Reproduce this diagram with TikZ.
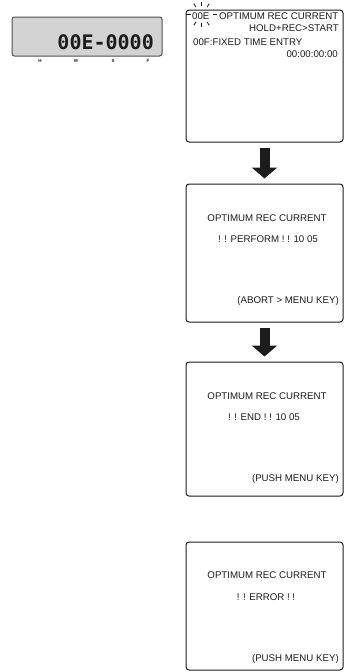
\documentclass[tikz,border=0pt]{standalone}
\usepackage{fontspec}
\setmainfont{Liberation Sans}
\newfontfamily\lcdfont{DejaVu Sans Mono}
\usetikzlibrary{arrows.meta,calc,positioning}
\definecolor{Ink}{HTML}{1C1C1C}
\definecolor{Lcd}{HTML}{D2D2D2}
\definecolor{Frame}{HTML}{505050}

\tikzset{
  screen/.style={draw=Ink,line width=1pt,rounded corners=3pt,minimum width=157pt,inner sep=0pt},
  msg/.style={text=Ink,inner sep=0pt,font=\fontsize{9.7}{11.6}\selectfont},
  flow/.style={Ink,line width=10pt,-{Triangle[width=25pt,length=11pt]},shorten <=5pt,shorten >=5pt}
}

\begin{document}
\begin{tikzpicture}[x=1pt,y=-1pt]
    \useasboundingbox (0,0) rectangle (344,672);

    % counter display
    \node[draw=Frame,fill=Lcd,line width=1pt,rounded corners=2.5pt,minimum width=150pt,minimum height=39pt,inner sep=0pt] (lcd) at (87,36.5) {};
    \node[anchor=base east,text=Ink,inner sep=0pt,font=\lcdfont\bfseries\fontsize{20}{24}\selectfont] (count) at (154,49) {00E-0000};
    \foreach \lbl/\x in {H/40,M/76,S/113,F/148}
      \node[text=Ink,inner sep=0pt,font=\bfseries\fontsize{4.5}{5}\selectfont] (unit\lbl) at (\x,61) {\lbl};

    % screens
    \node[screen,minimum height=132pt] (menu) at (264.5,76) {};
    \node[screen,minimum height=138pt] (perform) at (264.5,253) {};
    \node[screen,minimum height=134pt] (finish) at (264.5,429) {};
    \node[screen,minimum height=128pt] (fail) at (264.5,606) {};

    \draw[flow] (menu.south) -- (perform.north);
    \draw[flow] (perform.south) -- (finish.north);

    % menu screen
    \node[msg,anchor=base west] (itemE) at (192,19.5) {00E};
    \coordinate (blink) at (201.5,14.5);
    \foreach \a in {0,60,90,120,180,240,270,300}
      \draw[Ink,line width=0.8pt] ($(blink)+(\a:11 and 8.5)$) -- ($(blink)+(\a:15.5 and 12.5)$);
    \node[msg,anchor=base west] (itemEname) at (219,19.5) {OPTIMUM REC CURRENT};
    \node[msg,anchor=base east] (itemEhint) at (339,31) {HOLD+REC>START};
    \node[msg,anchor=base west] (itemF) at (193,45.5) {00F:FIXED TIME ENTRY};
    \node[msg,anchor=base east] (itemFtime) at (338,57.5) {00:00:00:00};

    % perform screen
    \node[msg,anchor=base] (performtitle) at (267,221.5) {OPTIMUM REC CURRENT};
    \node[msg,anchor=base] (performstate) at (268,242.5) {! ! PERFORM ! ! 10 05};
    \node[msg,anchor=base east] (performkey) at (339,303.5) {(ABORT > MENU KEY)};

    % end screen
    \node[msg,anchor=base] (finishtitle) at (267,399.5) {OPTIMUM REC CURRENT};
    \node[msg,anchor=base] (finishstate) at (264,420.5) {! ! END ! ! 10 05};
    \node[msg,anchor=base east] (finishkey) at (339,481.5) {(PUSH MENU KEY)};

    % error screen
    \node[msg,anchor=base] (failtitle) at (267,578.5) {OPTIMUM REC CURRENT};
    \node[msg,anchor=base] (failstate) at (266,600.5) {! ! ERROR ! !};
    \node[msg,anchor=base east] (failkey) at (339,661.5) {(PUSH MENU KEY)};
  \end{tikzpicture}
\end{document}
